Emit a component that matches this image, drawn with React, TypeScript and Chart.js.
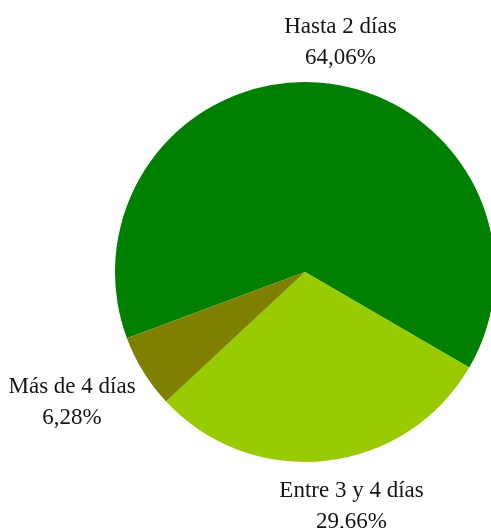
import React, { useEffect, useRef } from "react";
import { Chart, registerables } from "chart.js";

Chart.register(...registerables);

const categories = ["Hasta 2 días", "Entre 3 y 4 días", "Más de 4 días"];
const values = [64.06, 29.66, 6.28];
const valueLabels = ["64,06%", "29,66%", "6,28%"];
const colors = ["#008000", "#99CC00", "#808000"];

// label placement relative to each slice: angle shift (deg) and distance (in radii)
const labelAngleShift = [3.8, -4.9, 2.8];
const labelDistance = [1.231, 1.2505, 1.4005];

const labelPlugin = {
  id: "pieLabels",
  afterDraw(chart: any) {
    const ctx = chart.ctx;
    const meta = chart.getDatasetMeta(0);
    ctx.save();
    ctx.font = "23px 'Liberation Serif', 'DejaVu Serif', serif";
    ctx.fillStyle = "#141414";
    ctx.textAlign = "center";
    ctx.textBaseline = "alphabetic";
    meta.data.forEach((arc: any, i: number) => {
      const p = arc.getProps(["x", "y", "startAngle", "endAngle", "outerRadius"], true);
      const mid = (p.startAngle + p.endAngle) / 2 + (labelAngleShift[i] * Math.PI) / 180;
      const d = p.outerRadius * labelDistance[i];
      const cx = p.x + Math.cos(mid) * d;
      const cy = p.y + Math.sin(mid) * d;
      ctx.fillText(categories[i], cx, cy - 8);
      ctx.fillText(valueLabels[i], cx, cy + 23);
    });
    ctx.restore();
  },
};

export default function App() {
  const ref = useRef<HTMLCanvasElement | null>(null);
  useEffect(() => {
    if (!ref.current) return;
    const chart = new Chart(ref.current, {
      type: "pie",
      data: {
        labels: categories,
        datasets: [
          {
            data: values,
            backgroundColor: colors,
            borderWidth: 0,
          },
        ],
      },
      options: {
        responsive: false,
        animation: false,
        rotation: 249.6,
        layout: { padding: { left: 115, right: 15, top: 82, bottom: 66 } },
        plugins: {
          legend: { display: false },
          tooltip: { enabled: false },
        },
      },
      plugins: [labelPlugin],
    });
    return () => chart.destroy();
  }, []);
  return (
    <div
      style={{
        position: "absolute",
        left: 0,
        top: 0,
        width: 491,
        height: 528,
        overflow: "hidden",
        background: "#fff",
      }}
    >
      <canvas ref={ref} width={510} height={528} style={{ display: "block" }} />
    </div>
  );
}
